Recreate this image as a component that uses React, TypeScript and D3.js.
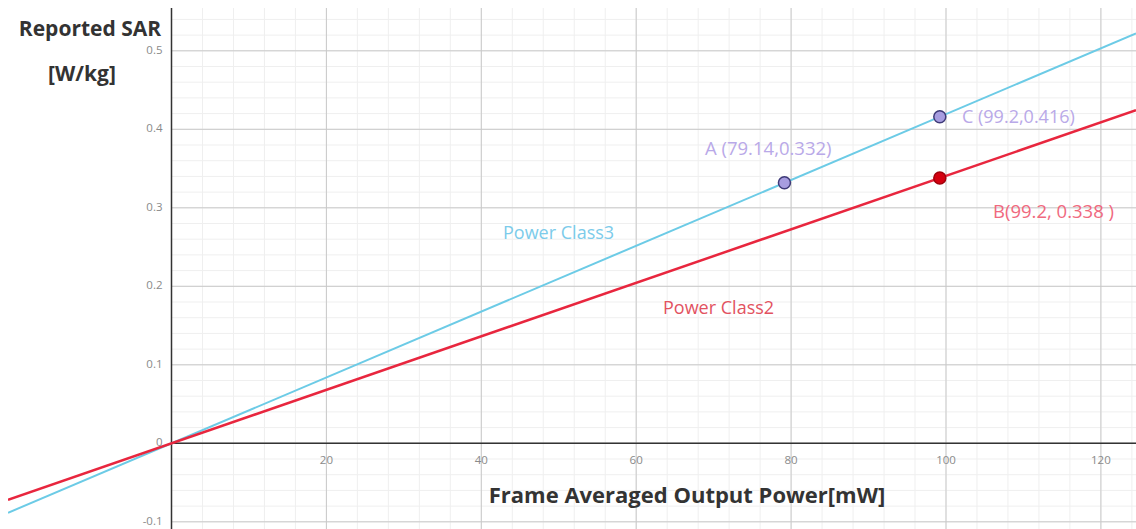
import React from "react";
import * as d3 from "d3";

const W = 1136;
const H = 529;

const xTickValues = [20, 40, 60, 80, 100, 120];
const yTickValues = [-0.1, 0, 0.1, 0.2, 0.3, 0.4, 0.5];
const yTickLabels = ["-0.1", "0", "0.1", "0.2", "0.3", "0.4", "0.5"];

// lines through origin and a measured point
const seriesNames = ["Power Class3", "Power Class2"];
const seriesAnchorX = [99.2, 99.2];
const seriesAnchorY = [0.416, 0.338];
const seriesColors = ["#6ccbe6", "#e8263e"];
const seriesWidths = [2, 2.5];

const pointNames = ["A", "C", "B"];
const pointX = [79.14, 99.2, 99.2];
const pointY = [0.332, 0.416, 0.338];
const pointLabels = ["A (79.14,0.332)", "C (99.2,0.416)", "B(99.2, 0.338 )"];

export default function App() {
  const x = d3.scaleLinear().domain([0, 100]).range([171.5, 946]);
  const y = d3.scaleLinear().domain([0, 0.5]).range([443.3, 50.8]);
  const left = 8, top = 8;
  const xMin = x.invert(left), xMax = x.invert(W);

  const minorX = d3.range(0, 125, 4);
  const minorY = d3.range(-0.1, 0.56, 0.02);
  const majorX = d3.range(20, 125, 20);
  const majorY = d3.range(-0.1, 0.56, 0.1);

  const line = d3.line<[number, number]>().x(d => x(d[0])).y(d => y(d[1]));

  const font = "'Open Sans', 'Noto Sans', sans-serif";

  return (
    <svg width={W} height={H} style={{ position: "fixed", left: 0, top: 0, background: "#fff" }}>
      <defs>
        <clipPath id="plot">
          <rect x={left} y={top} width={W - left} height={H - top} />
        </clipPath>
      </defs>
      <rect x={0} y={0} width={W} height={H} fill="#fff" />
      <g clipPath="url(#plot)">
        {minorX.map((v, i) => (
          <line key={"mx" + i} x1={x(v)} x2={x(v)} y1={top} y2={H} stroke="#efefef" strokeWidth={1} />
        ))}
        {minorY.map((v, i) => (
          <line key={"my" + i} x1={x(0)} x2={W} y1={y(v)} y2={y(v)} stroke="#efefef" strokeWidth={1} />
        ))}
        {majorX.map((v, i) => (
          <line key={"gx" + i} x1={x(v)} x2={x(v)} y1={top} y2={H} stroke="#c9c9c9" strokeWidth={1} />
        ))}
        {majorY.map((v, i) => (
          <line key={"gy" + i} x1={x(0)} x2={W} y1={y(v)} y2={y(v)} stroke="#c9c9c9" strokeWidth={1} />
        ))}
        {/* axes */}
        <line x1={x(0)} x2={W} y1={y(0)} y2={y(0)} stroke="#333" strokeWidth={1.5} />
        <line x1={x(0)} x2={x(0)} y1={top} y2={H} stroke="#333" strokeWidth={1.5} />
        {/* series lines */}
        {seriesNames.map((n, i) => {
          const k = seriesAnchorY[i] / seriesAnchorX[i];
          const pts: [number, number][] = [[xMin, xMin * k], [xMax, xMax * k]];
          return (
            <path key={n} d={line(pts) || ""} fill="none" stroke={seriesColors[i]} strokeWidth={seriesWidths[i]} />
          );
        })}
      </g>
      {/* tick labels */}
      {xTickValues.map((v) => (
        <text key={"xt" + v} x={x(v)} y={y(0) + 21} textAnchor="middle" fontSize={11.5} fill="#8a8a8a" fontFamily={font}>
          {v}
        </text>
      ))}
      {yTickValues.map((v, i) => (
        <text key={"yt" + i} x={x(0) - 9} y={y(v) + 3} textAnchor="end" fontSize={11.5} fill="#8a8a8a" fontFamily={font}>
          {yTickLabels[i]}
        </text>
      ))}
      {/* series labels */}
      <text x={503} y={239} fontSize={18} fill="#7ccbea" fontFamily={font}>{seriesNames[0]}</text>
      <text x={663} y={314} fontSize={18} fill="#e2525f" fontFamily={font}>{seriesNames[1]}</text>
      {/* points */}
      {pointNames.map((n, i) => (
        <circle
          key={n}
          cx={x(pointX[i])}
          cy={y(pointY[i])}
          r={6}
          fill={n === "B" ? "#d40010" : "#a79de0"}
          stroke={n === "B" ? "#a0000a" : "#3e3a78"}
          strokeWidth={1.5}
        />
      ))}
      <text x={705} y={155} fontSize={18.5} fill="#b9a9e8" fontFamily={font}>{pointLabels[0]}</text>
      <text x={962} y={123} fontSize={18} fill="#b9a9e8" fontFamily={font}>{pointLabels[1]}</text>
      <text x={993} y={218} fontSize={18.5} fill="#f0697e" fontFamily={font}>{pointLabels[2]}</text>
      {/* axis titles */}
      <text x={90} y={36} textAnchor="middle" fontSize={21} fontWeight={700} fill="#333" fontFamily={font}>Reported SAR</text>
      <text x={82} y={81} textAnchor="middle" fontSize={21} fontWeight={700} fill="#333" fontFamily={font}>[W/kg]</text>
      <text x={687} y={503} textAnchor="middle" fontSize={22} fontWeight={700} fill="#333" fontFamily={font}>Frame Averaged Output Power[mW]</text>
    </svg>
  );
}
